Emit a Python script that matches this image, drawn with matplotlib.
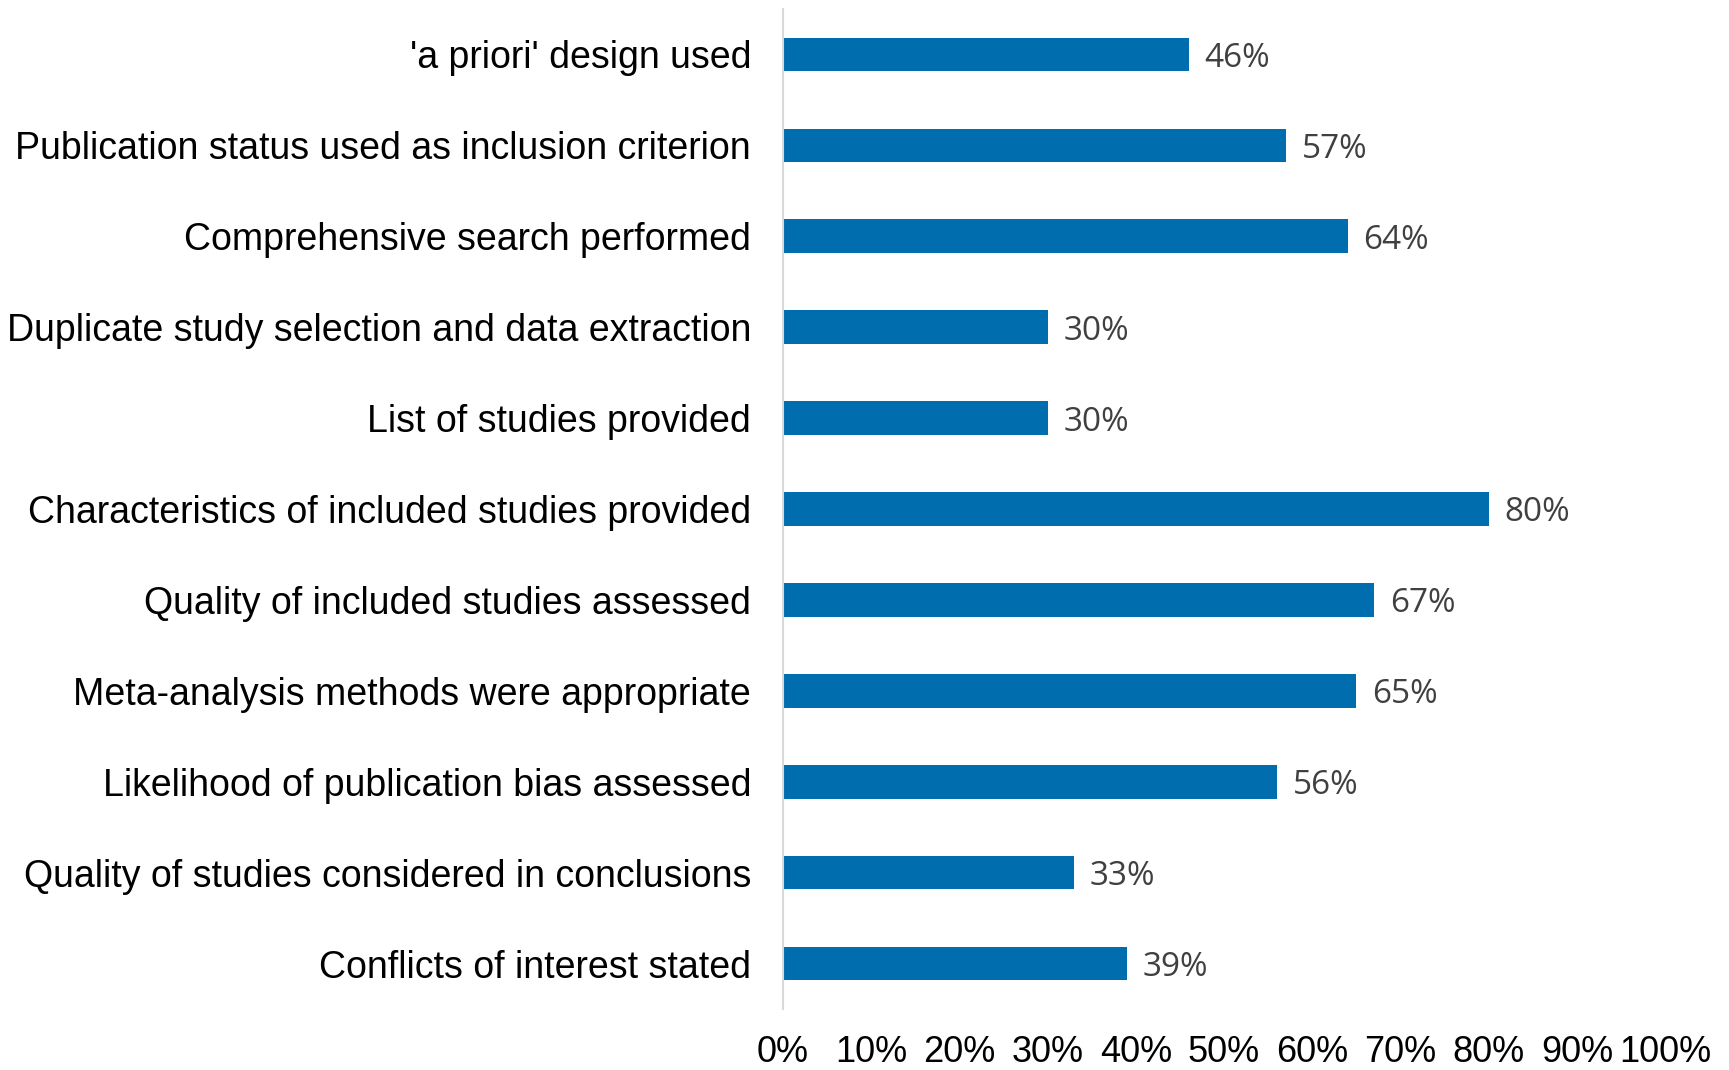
import numpy as np
import matplotlib
matplotlib.use('Agg')
import matplotlib.pyplot as plt
from matplotlib.ticker import PercentFormatter

categories = ["'a priori' design used",
              'Publication status used as inclusion criterion',
              'Comprehensive search performed',
              'Duplicate study selection and data extraction',
              'List of studies provided',
              'Characteristics of included studies provided',
              'Quality of included studies assessed',
              'Meta-analysis methods were appropriate',
              'Likelihood of publication bias assessed',
              'Quality of studies considered in conclusions',
              'Conflicts of interest stated']
values = [46, 57, 64, 30, 30, 80, 67, 65, 56, 33, 39]
xticks = [0, 10, 20, 30, 40, 50, 60, 70, 80, 90, 100]

fig = plt.figure(figsize=(17.29, 10.70), dpi=100)
ax = fig.add_axes([0.4529, 0.057, 0.963 - 0.4529, 0.9916 - 0.057])

y = np.arange(len(categories))
ax.barh(y, values, height=0.37, color='#006DAE', zorder=2)

# percentage labels just right of each bar
for yi, v in zip(y, values):
    ax.text(v + 1.8, yi, '%d%%' % v, va='center_baseline', ha='left',
            fontsize=24, color='#404040', family='Open Sans')

ax.set_xlim(0, 100)
ax.set_ylim(len(categories) - 0.5, -0.5)
ax.set_yticks(y)
ax.set_yticklabels(categories, family='Liberation Sans', fontsize=27)
ax.set_xticks(xticks)
ax.xaxis.set_major_formatter(PercentFormatter(decimals=0))
for lbl in ax.get_xticklabels():
    lbl.set_family('Liberation Sans')
    lbl.set_fontsize(26)

ax.tick_params(axis='both', length=0)
ax.tick_params(axis='y', pad=23)
ax.tick_params(axis='x', pad=18.5)

for s in ['top', 'right', 'bottom']:
    ax.spines[s].set_visible(False)
ax.spines['left'].set_color('#D9D9D9')
ax.spines['left'].set_linewidth(1.5)

fig.savefig('out.png', dpi=100)
